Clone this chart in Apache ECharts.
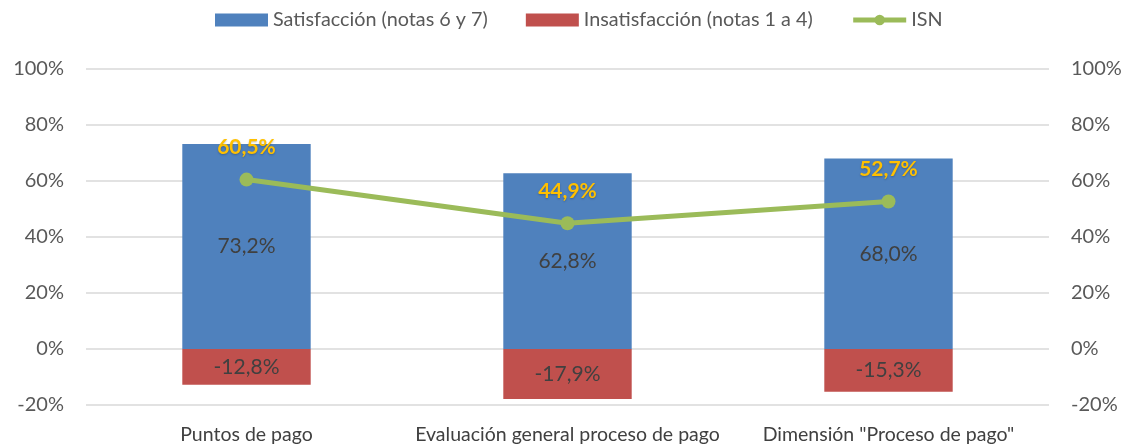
<!DOCTYPE html>
<html>
<head>
<meta charset="utf-8">
<script src="https://cdn.jsdelivr.net/npm/echarts@6/dist/echarts.min.js"></script>
<style>
  html, body { margin: 0; padding: 0; background: #fff; }
  #chart { width: 1130px; height: 445px; }
</style>
</head>
<body>
<div id="chart"></div>
<script>
(function () {
  'use strict';

  // ── Data ──
  var categories = ['Puntos de pago', 'Evaluación general proceso de pago', 'Dimensión "Proceso de pago"'];
  var satisfaccion = [73.2, 62.8, 68.0];
  var insatisfaccion = [-12.8, -17.9, -15.3];
  var isn = [60.5, 44.9, 52.7];

  var FONT = 'Lato';
  var COLORS = { blue: '#4F81BD', red: '#C0504D', green: '#9BBB59', gold: '#FFC000' };

  function fmtPct(v) { return v.toFixed(1).replace('.', ',') + '%'; }

  function yAxis(pos) {
    return {
      type: 'value',
      position: pos,
      min: -20,
      max: 100,
      interval: 20,
      axisLabel: {
        color: '#595959', fontSize: 20, fontFamily: FONT, margin: 22,
        formatter: function (v) { return v + '%'; }
      },
      axisLine: { show: false },
      axisTick: { show: false },
      splitLine: { show: pos === 'left', lineStyle: { color: '#d9d9d9', width: 1.5 } }
    };
  }

  var chart = echarts.init(document.getElementById('chart'), null, { renderer: 'canvas' });
  chart.setOption({
    animation: false,
    textStyle: { fontFamily: FONT },
    legend: {
      top: 5,
      left: 210,
      itemGap: 38,
      itemWidth: 53,
      itemHeight: 13,
      textStyle: { color: '#595959', fontSize: 19.8, fontFamily: FONT },
      data: [
        { name: 'Satisfacción (notas 6 y 7)', icon: 'rect' },
        { name: 'Insatisfacción (notas 1 a 4)', icon: 'rect' },
        { name: 'ISN', lineStyle: { width: 5 }, itemStyle: { color: COLORS.green } }
      ]
    },
    grid: { left: 86, right: 81, top: 69, bottom: 40 },
    xAxis: {
      type: 'category',
      data: categories,
      axisLine: { show: false },
      axisTick: { show: false },
      axisLabel: { color: '#404040', fontSize: 19.5, fontFamily: FONT, margin: 20, interval: 0 }
    },
    yAxis: [yAxis('left'), yAxis('right')],
    series: [
      {
        name: 'Satisfacción (notas 6 y 7)',
        type: 'bar',
        data: satisfaccion,
        barWidth: '40%',
        barGap: '-100%',
        itemStyle: { color: COLORS.blue },
        label: {
          show: true, position: 'inside', color: '#404040', fontSize: 21, fontFamily: FONT,
          formatter: function (p) { return fmtPct(p.value); }
        }
      },
      {
        name: 'Insatisfacción (notas 1 a 4)',
        type: 'bar',
        data: insatisfaccion,
        barWidth: '40%',
        itemStyle: { color: COLORS.red },
        label: {
          show: true, position: 'inside', color: '#404040', fontSize: 21, fontFamily: FONT,
          formatter: function (p) { return fmtPct(p.value); }
        }
      },
      {
        name: 'ISN',
        type: 'line',
        data: isn,
        symbol: 'circle',
        symbolSize: 14,
        lineStyle: { color: COLORS.green, width: 5 },
        itemStyle: { color: COLORS.green },
        label: {
          show: true, position: 'top', distance: 15, color: COLORS.gold, fontSize: 21,
          fontWeight: 'bold', fontFamily: FONT,
          textShadowColor: 'rgba(0,0,0,0.25)', textShadowBlur: 2, textShadowOffsetY: 1,
          formatter: function (p) { return fmtPct(p.value); }
        },
        z: 5
      }
    ]
  });
})();
</script>
</body>
</html>
